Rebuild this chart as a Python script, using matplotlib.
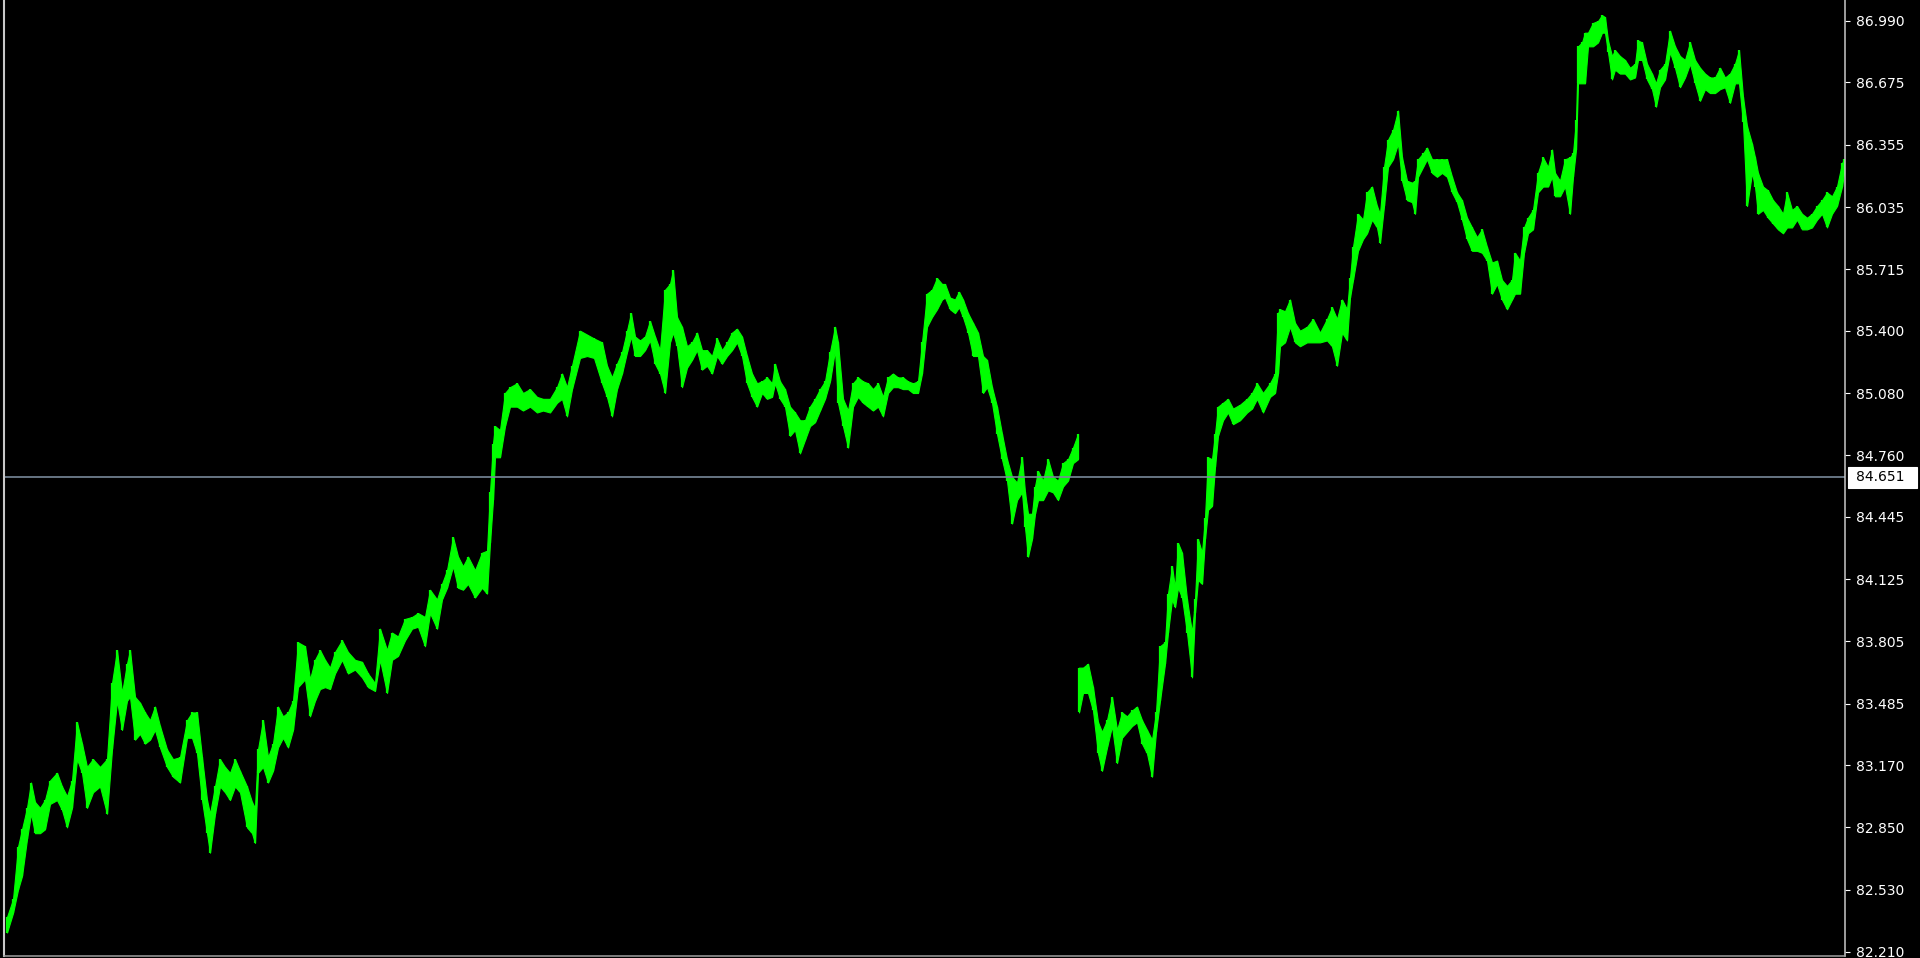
import numpy as np
import matplotlib
matplotlib.use("Agg")
import matplotlib.pyplot as plt
from matplotlib.patches import Rectangle

BAR = [
    7, 13, 18, 22, 27, 31, 35, 40, 45, 50, 57, 62, 67, 72, 77, 82, 87, 93, 100, 107,
    112, 117, 122, 127, 130, 135, 140, 145, 150, 155, 160, 167, 173, 180, 187, 192,
    197, 202, 207, 210, 215, 220, 225, 230, 235, 240, 247, 252, 255, 258, 263, 268,
    273, 278, 283, 288,
    293, 298, 305, 310, 315, 320, 325, 330, 335, 342, 348, 355, 362, 368, 375, 380,
    387, 392, 398, 405, 412, 418, 425, 430, 437, 442, 447, 453, 458, 463, 468, 475,
    482, 487, 490, 493, 495, 500, 505, 510, 517, 523, 530, 537, 543, 550, 557, 562,
    567, 572,
    580, 587, 594, 602, 607, 612, 617, 622, 627, 631, 635, 640, 645, 650, 655, 660,
    665, 670, 673, 677, 682, 687, 692, 697, 702, 707, 712, 717, 722, 727, 732, 737,
    742, 747, 752, 757, 762, 767, 772, 775, 780, 785, 790, 795, 800, 805, 810, 815,
    820, 825, 830, 835, 838, 843, 848, 853, 858, 863, 868, 873, 878, 883, 888, 893,
    898, 903, 908, 913, 918, 922,
    927, 932, 937, 942, 945, 950, 955, 959, 963, 968, 973, 978, 983, 987, 992, 997,
    1002, 1007, 1012, 1017, 1022, 1025, 1028, 1032, 1035, 1038, 1043, 1048, 1053,
    1058, 1063, 1068, 1073, 1078,
    1079, 1083, 1088, 1093, 1098, 1102, 1107, 1112, 1117, 1122, 1127, 1132, 1137,
    1142, 1147, 1152, 1156, 1160, 1165, 1168, 1172, 1175, 1178, 1182, 1187, 1192,
    1195, 1198, 1202, 1205, 1208, 1212, 1215, 1218, 1223, 1228, 1233, 1240, 1247,
    1252, 1257, 1263, 1270, 1275, 1278,
    1280, 1285, 1290, 1295, 1300, 1307, 1313, 1320, 1327, 1332, 1337, 1342, 1347,
    1350, 1353, 1358, 1363, 1367, 1372, 1377, 1380, 1384, 1388, 1393, 1398, 1402,
    1407, 1412, 1415, 1418, 1423, 1427, 1432, 1437, 1442, 1447, 1452, 1457, 1462,
    1467, 1472, 1477, 1482, 1487, 1492, 1497, 1502, 1507, 1512, 1515,
    1520, 1524, 1528, 1533, 1538, 1543, 1548, 1552, 1555, 1560, 1565, 1570, 1573,
    1576, 1578, 1582, 1585, 1588, 1593, 1598, 1602, 1605, 1608, 1612, 1615, 1620,
    1625, 1630, 1635, 1638, 1642, 1647, 1652, 1656, 1660, 1665, 1670, 1675, 1680,
    1685, 1690, 1695, 1700, 1705, 1710, 1715, 1720, 1725, 1730, 1735, 1739, 1743,
    1747, 1752, 1755, 1758, 1763, 1768, 1773, 1778, 1783, 1787, 1792, 1797, 1802,
    1807, 1812, 1817, 1822, 1827, 1832, 1837, 1842, 1844,
]

HIGH = [
    82.39, 82.48, 82.75, 82.84, 82.95, 83.08, 82.98, 82.95, 82.99, 83.09, 83.13, 83.06,
    83.01, 83.09, 83.39, 83.28, 83.16, 83.20, 83.16, 83.20, 83.59, 83.76, 83.54, 83.69,
    83.76, 83.52, 83.49, 83.44, 83.40, 83.47, 83.37, 83.25, 83.20, 83.21, 83.40, 83.44,
    83.44, 83.21, 82.99, 82.92, 83.06, 83.20, 83.16, 83.13, 83.20, 83.14, 83.06, 82.98,
    82.95, 83.25, 83.40, 83.21, 83.28, 83.47, 83.42, 83.44,
    83.50, 83.80, 83.78, 83.61, 83.71, 83.76, 83.71, 83.67, 83.75, 83.81, 83.75, 83.71,
    83.70, 83.64, 83.59, 83.87, 83.76, 83.85, 83.83, 83.92, 83.93, 83.95, 83.93, 84.07,
    84.02, 84.10, 84.17, 84.34, 84.24, 84.19, 84.24, 84.17, 84.26, 84.27, 84.57, 84.82,
    84.91, 84.89, 85.08, 85.11, 85.13, 85.08, 85.10, 85.06, 85.05, 85.05, 85.11, 85.18,
    85.11, 85.22,
    85.40, 85.38, 85.36, 85.34, 85.22, 85.16, 85.23, 85.29, 85.40, 85.49, 85.37, 85.35,
    85.37, 85.45, 85.37, 85.30, 85.61, 85.64, 85.71, 85.47, 85.42, 85.32, 85.34, 85.39,
    85.30, 85.30, 85.27, 85.36, 85.30, 85.34, 85.39, 85.41, 85.37, 85.27, 85.18, 85.13,
    85.14, 85.16, 85.13, 85.23, 85.14, 85.10, 85.01, 84.98, 84.94, 84.94, 85.01, 85.05,
    85.10, 85.14, 85.29, 85.42, 85.34, 85.05, 84.99, 85.13, 85.16, 85.14, 85.13, 85.10,
    85.13, 85.06, 85.16, 85.18, 85.16, 85.16, 85.14, 85.13, 85.14, 85.34,
    85.59, 85.61, 85.67, 85.64, 85.64, 85.57, 85.56, 85.60, 85.56, 85.49, 85.44, 85.39,
    85.27, 85.25, 85.11, 85.01, 84.87, 84.74, 84.65, 84.62, 84.75, 84.57, 84.46, 84.46,
    84.60, 84.68, 84.63, 84.74, 84.65, 84.63, 84.72, 84.74, 84.80, 84.87,
    83.67, 83.67, 83.69, 83.57, 83.39, 83.34, 83.40, 83.52, 83.35, 83.44, 83.42, 83.45,
    83.47, 83.40, 83.35, 83.30, 83.44, 83.78, 83.80, 84.05, 84.19, 84.08, 84.31, 84.26,
    84.02, 83.85, 84.02, 84.33, 84.26, 84.44, 84.75, 84.74, 84.87, 85.01, 85.03, 85.05,
    85.00, 85.02, 85.05, 85.08, 85.13, 85.08, 85.13, 85.18, 85.49,
    85.51, 85.50, 85.56, 85.44, 85.40, 85.42, 85.46, 85.39, 85.46, 85.52, 85.46, 85.56,
    85.51, 85.67, 85.83, 86.00, 85.97, 86.11, 86.14, 86.04, 86.00, 86.24, 86.38, 86.43,
    86.53, 86.29, 86.17, 86.16, 86.17, 86.28, 86.31, 86.34, 86.28, 86.28, 86.28, 86.28,
    86.19, 86.11, 86.07, 85.98, 85.93, 85.88, 85.92, 85.83, 85.75, 85.76, 85.66, 85.63,
    85.66, 85.80,
    85.76, 85.93, 85.98, 86.02, 86.21, 86.29, 86.24, 86.33, 86.21, 86.17, 86.28, 86.29,
    86.31, 86.48, 86.86, 86.88, 86.93, 86.93, 86.98, 86.99, 87.02, 87.01, 86.89, 86.81,
    86.84, 86.81, 86.79, 86.75, 86.77, 86.89, 86.88, 86.77, 86.72, 86.67, 86.74, 86.77,
    86.94, 86.86, 86.81, 86.79, 86.88, 86.79, 86.75, 86.72, 86.70, 86.70, 86.75, 86.70,
    86.72, 86.77, 86.84, 86.60, 86.45, 86.36, 86.29, 86.21, 86.14, 86.12, 86.07, 86.04,
    86.00, 86.11, 86.02, 86.04, 86.00, 85.98, 86.00, 86.04, 86.07, 86.11, 86.09, 86.14,
    86.26, 86.28,
]

LOW = [
    82.31, 82.41, 82.53, 82.60, 82.79, 82.92, 82.82, 82.82, 82.84, 82.97, 82.99, 82.94,
    82.85, 82.95, 83.20, 83.13, 82.95, 83.03, 83.06, 82.92, 83.25, 83.50, 83.35, 83.50,
    83.52, 83.30, 83.33, 83.28, 83.30, 83.35, 83.26, 83.16, 83.11, 83.08, 83.31, 83.31,
    83.23, 82.99, 82.82, 82.72, 82.92, 83.06, 83.03, 82.99, 83.06, 83.03, 82.85, 82.82,
    82.77, 83.13, 83.16, 83.08, 83.14, 83.26, 83.31, 83.26,
    83.35, 83.57, 83.61, 83.42, 83.50, 83.56, 83.57, 83.56, 83.64, 83.71, 83.64, 83.66,
    83.62, 83.57, 83.55, 83.71, 83.54, 83.71, 83.73, 83.81, 83.87, 83.88, 83.78, 83.95,
    83.87, 84.02, 84.08, 84.19, 84.08, 84.07, 84.10, 84.03, 84.08, 84.05, 84.31, 84.53,
    84.75, 84.75, 84.91, 85.01, 85.01, 84.99, 85.01, 84.98, 84.99, 84.98, 85.03, 85.05,
    84.96, 85.10,
    85.26, 85.27, 85.26, 85.13, 85.06, 84.96, 85.10, 85.18, 85.29, 85.37, 85.27, 85.27,
    85.30, 85.35, 85.23, 85.18, 85.08, 85.34, 85.39, 85.32, 85.11, 85.21, 85.25, 85.30,
    85.20, 85.22, 85.18, 85.27, 85.23, 85.27, 85.30, 85.34, 85.27, 85.13, 85.06, 85.01,
    85.08, 85.05, 85.06, 85.13, 85.05, 85.01, 84.86, 84.89, 84.77, 84.84, 84.91, 84.93,
    84.99, 85.05, 85.14, 85.30, 85.03, 84.91, 84.80, 85.01, 85.06, 85.03, 85.01, 84.99,
    85.01, 84.96, 85.08, 85.11, 85.11, 85.10, 85.10, 85.08, 85.08, 85.18,
    85.42, 85.47, 85.51, 85.56, 85.57, 85.51, 85.49, 85.52, 85.47, 85.39, 85.27, 85.27,
    85.08, 85.11, 85.03, 84.87, 84.74, 84.63, 84.41, 84.53, 84.57, 84.39, 84.24, 84.33,
    84.46, 84.53, 84.53, 84.58, 84.57, 84.53, 84.60, 84.63, 84.72, 84.74,
    83.44, 83.54, 83.54, 83.45, 83.23, 83.14, 83.26, 83.37, 83.18, 83.31, 83.34, 83.37,
    83.39, 83.28, 83.23, 83.11, 83.34, 83.50, 83.69, 83.85, 84.02, 83.98, 84.08, 84.03,
    83.85, 83.62, 83.95, 84.12, 84.10, 84.33, 84.48, 84.50, 84.70, 84.86, 84.94, 84.98,
    84.92, 84.94, 84.98, 85.00, 85.05, 84.98, 85.06, 85.08, 85.18,
    85.32, 85.34, 85.42, 85.34, 85.32, 85.34, 85.34, 85.34, 85.35, 85.32, 85.22, 85.39,
    85.35, 85.57, 85.66, 85.81, 85.87, 85.90, 85.97, 85.93, 85.85, 86.04, 86.24, 86.28,
    86.36, 86.17, 86.07, 86.06, 86.00, 86.19, 86.24, 86.28, 86.21, 86.19, 86.21, 86.19,
    86.11, 86.06, 85.97, 85.87, 85.81, 85.81, 85.80, 85.76, 85.59, 85.64, 85.56, 85.51,
    85.56, 85.59,
    85.59, 85.80, 85.90, 85.92, 86.11, 86.14, 86.14, 86.19, 86.09, 86.09, 86.14, 86.00,
    86.19, 86.33, 86.67, 86.67, 86.67, 86.86, 86.86, 86.88, 86.93, 86.93, 86.83, 86.69,
    86.74, 86.72, 86.72, 86.69, 86.70, 86.79, 86.79, 86.69, 86.64, 86.55, 86.65, 86.69,
    86.83, 86.75, 86.65, 86.70, 86.77, 86.67, 86.58, 86.64, 86.62, 86.62, 86.64, 86.65,
    86.57, 86.67, 86.67, 86.47, 86.04, 86.21, 86.14, 86.00, 86.02, 85.98, 85.95, 85.92,
    85.90, 85.93, 85.93, 85.97, 85.92, 85.92, 85.93, 85.97, 86.00, 85.93, 86.00, 86.04,
    86.14, 86.21,
]

TICKS = [86.990, 86.675, 86.355, 86.035, 85.715, 85.400, 85.080, 84.760,
         84.445, 84.125, 83.805, 83.485, 83.170, 82.850, 82.530, 82.210]
LAST_PRICE = 84.651

GREEN = "#00ff00"
PRICE_LINE = "#778899"
FG = "white"

# ── Figure layout (pixel geometry of the terminal window) ────────────────────
W, H = 1920, 958
X_LEFT, X_AXIS, Y_BOTTOM = 4, 1845, 956          # chart area in pixels
Y_TOP_TICK, Y_BOT_TICK = 21, 952                 # pixel rows of 86.990 / 82.210

fig = plt.figure(figsize=(W / 100, H / 100), dpi=100)
fig.patch.set_facecolor("black")
ax = fig.add_axes([X_LEFT / W, (H - Y_BOTTOM) / H, (X_AXIS - X_LEFT) / W, Y_BOTTOM / H])
ax.set_facecolor("black")

ppu = (Y_BOT_TICK - Y_TOP_TICK) / (TICKS[0] - TICKS[-1])   # pixels per price unit
ax.set_ylim(TICKS[0] - (Y_BOTTOM - Y_TOP_TICK) / ppu, TICKS[0] + Y_TOP_TICK / ppu)
ax.set_xlim(X_LEFT, X_AXIS)

bar = np.array(BAR, float)
hi = np.array(HIGH)
lo = np.array(LOW)

# split where the series jumps (weekend gap)
cuts = np.where(hi[1:] < lo[:-1] - 0.5)[0] + 1
for seg in np.split(np.arange(len(bar)), cuts):
    ax.fill_between(bar[seg], lo[seg], hi[seg], color=GREEN, lw=0.8, edgecolor=GREEN)
ax.vlines(bar, lo, hi, color=GREEN, lw=1.6)

# current price line
ax.axhline(LAST_PRICE, color=PRICE_LINE, lw=1.2)

# right-hand price scale
ax.yaxis.tick_right()
ax.set_yticks(TICKS)
ax.set_yticklabels([f"{t:.3f}" for t in TICKS])
ax.tick_params(axis="y", colors=FG, labelcolor=FG, length=3.6, width=0.8,
               pad=4.3, labelsize=10)
ax.set_xticks([])

for side in ["top"]:
    ax.spines[side].set_visible(False)
ax.spines["right"].set_color("#c8c8c8")
ax.spines["right"].set_linewidth(1.1)
ax.spines["left"].set_color("#c8c8c8")
ax.spines["left"].set_linewidth(1.5)
ax.spines["bottom"].set_color("#a0a0a0")
ax.spines["bottom"].set_linewidth(1.1)

# last price label box
y_lbl = Y_TOP_TICK + (TICKS[0] - LAST_PRICE) * ppu
fig.patches.append(Rectangle((1848 / W, 1 - 488 / H), 69 / W, 21 / H,
                             transform=fig.transFigure, facecolor="white",
                             edgecolor="white", lw=0.8))
fig.text(1856 / W, 1 - y_lbl / H, f"{LAST_PRICE:.3f}", color="black",
         fontsize=10, va="center", ha="left")

fig.savefig("out.png", dpi=100, facecolor=fig.get_facecolor())
